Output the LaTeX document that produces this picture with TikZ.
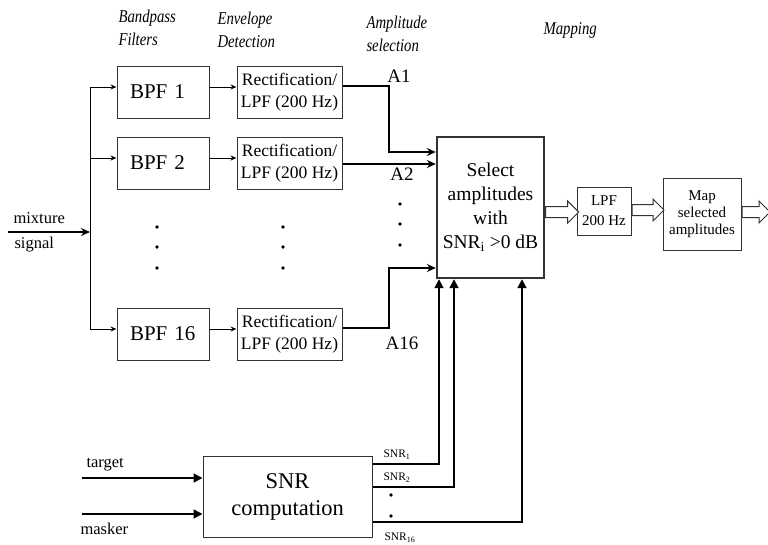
\documentclass[tikz,border=0pt]{standalone}
\usepackage{fontspec}
\setmainfont{Liberation Serif}
\newfontfamily\hdfont{Liberation Serif}[FakeStretch=0.82]
\usetikzlibrary{arrows.meta, positioning, shapes.arrows, calc}
\definecolor{cline}{HTML}{333333}
\newcommand{\fs}[2]{\fontsize{#1pt}{#2pt}\selectfont}
\tikzset{
  every picture/.style={line width=1pt},
  blk/.style={draw=cline, line width=1pt, align=center, inner sep=0pt},
  bpfbox/.style={blk, minimum width=92pt, minimum height=52pt, text width=66pt, inner xsep=13pt, align=left, font=\fs{21}{24}},
  envbox/.style={blk, minimum width=105pt, minimum height=52pt, font=\fs{17.5}{22}},
  head/.style={font=\hdfont\itshape\fs{18}{22.5}, align=left, anchor=west, inner sep=0pt},
  lbl/.style={font=\fs{19}{22}, inner sep=0pt},
  sig/.style={font=\fs{16.5}{20}, inner sep=0pt, anchor=west},
  snrlbl/.style={font=\fs{11.5}{14}, inner sep=0pt},
  thin arrow/.style={-{Stealth[length=6pt,width=5pt]}, line width=1pt},
  mix arrow/.style={-{Stealth[length=9pt,width=8pt,inset=3pt]}, line width=1.8pt},
  amp arrow/.style={-{Stealth[length=9pt,width=8pt,inset=3pt]}, line width=1.8pt},
  snr arrow/.style={-{Triangle[length=9pt,width=9pt]}, line width=1.8pt},
  hollow/.style={single arrow, draw=cline, line width=1pt, fill=white,
    single arrow head extend=5.5pt, inner xsep=0pt, inner ysep=5pt, anchor=tail},
  dot/.style={circle, fill=black, inner sep=0pt, minimum size=3.6pt},
}
\begin{document}
\begin{tikzpicture}[x=1pt, y=-1pt]
  \useasboundingbox (0,0) rectangle (768,544);
  % column headings
  \node[head] (hbpf) at (118,28) {Bandpass\\Filters};
  \node[head] (henv) at (217,30) {Envelope\\Detection};
  \node[head] (hamp) at (366,34) {Amplitude\\selection};
  \node[head] (hmap) at (543,30) {Mapping};
  % filter bank and envelopes
  \foreach \n/\y in {1/92, 2/163, 16/334} {
    \node[bpfbox] (bpf\n) at (163,\y) {BPF \n};
    \node[envbox] (env\n) at (289.5,\y) {Rectification/\\LPF (200 Hz)};
    \draw[thin arrow] ([yshift=5pt]bpf\n.east) -- ([yshift=5pt]env\n.west);
  }
  \foreach \y [count=\i] in {227,247,268} {
    \node[dot] (bd\i) at (157,\y) {};
    \node[dot] (ed\i) at (283,\y) {};
  }
  % input bus
  \coordinate (mixin) at (8,232);
  \coordinate (bus) at (90,232);
  \node[sig] (mixlbl) at (13,218) {mixture};
  \node[sig] (siglbl) at (14,245) {signal};
  \draw[mix arrow] (mixin) -- (bus);
  \draw ([yshift=5pt]bpf1.west -| bus) -- ([yshift=5pt]bpf16.west -| bus);
  \foreach \n in {1,2,16}
    \draw[thin arrow] ([yshift=5pt]bpf\n.west -| bus) -- ([yshift=5pt]bpf\n.west);
  % amplitude selection
  \node[blk, line width=2.4pt, minimum width=107pt, minimum height=141pt, font=\fs{19.5}{24}] (sel)
    at (490.5,207.5) {Select\\amplitudes\\with\\SNR\textsubscript{i} >0 dB};
  \coordinate (a1bend) at (389,152);
  \coordinate (a16bend) at (389,268);
  \draw[amp arrow] ([yshift=6pt]env1.east) -| (a1bend) -- (a1bend -| sel.west);
  \draw[amp arrow] ([yshift=-1pt]env2.east) -- ([yshift=-1pt]env2.east -| sel.west);
  \draw[amp arrow] ([yshift=6pt]env16.east) -| (a16bend) -- (a16bend -| sel.west);
  \node[lbl] (la1) at (399,76) {A1};
  \node[lbl] (la2) at (402,174) {A2};
  \node[lbl] (la16) at (402,343) {A16};
  \foreach \y [count=\i] in {204,224,245}
    \node[dot] (ad\i) at (400,\y) {};
  % mapping
  \node[blk, minimum width=54pt, minimum height=48pt, font=\fs{15}{20}] (lpf) at (604,211) {LPF\\200 Hz};
  \node[blk, minimum width=78pt, minimum height=72pt, font=\fs{15}{17}] (map) at (702,214) {Map\\selected\\amplitudes};
  \node[hollow, minimum height=33pt] (h1) at ([yshift=-4.5pt]sel.east) {};
  \node[hollow, minimum height=32pt] (h2) at ([yshift=1pt]lpf.east) {};
  \node[hollow, minimum height=28pt] (h3) at ([yshift=2pt]map.east) {};
  % SNR computation
  \node[blk, minimum width=169pt, minimum height=81pt, font=\fs{22.5}{27}] (snr) at (287.5,496.5) {SNR\\computation};
  \coordinate (tin) at (82,478);
  \coordinate (min) at (82,514);
  \draw[snr arrow] (tin) -- (tin -| snr.west);
  \draw[snr arrow] (min) -- (min -| snr.west);
  \node[sig] (tlbl) at (86,465) {target};
  \node[sig] (mlbl) at (80,529) {masker};
  \coordinate (s1) at (439,464);
  \coordinate (s2) at (454,487);
  \coordinate (s16) at (522,522);
  \foreach \s in {s1,s2,s16}
    \draw[snr arrow] (snr.east |- \s) -| (\s |- sel.south);
  \node[snrlbl] (ls1) at (397,455) {SNR\textsubscript{1}};
  \node[snrlbl] (ls2) at (397,478) {SNR\textsubscript{2}};
  \node[snrlbl] (ls16) at (400,538) {SNR\textsubscript{16}};
  \foreach \y [count=\i] in {495,516}
    \node[dot] (sd\i) at (391,\y) {};
\end{tikzpicture}
\end{document}
